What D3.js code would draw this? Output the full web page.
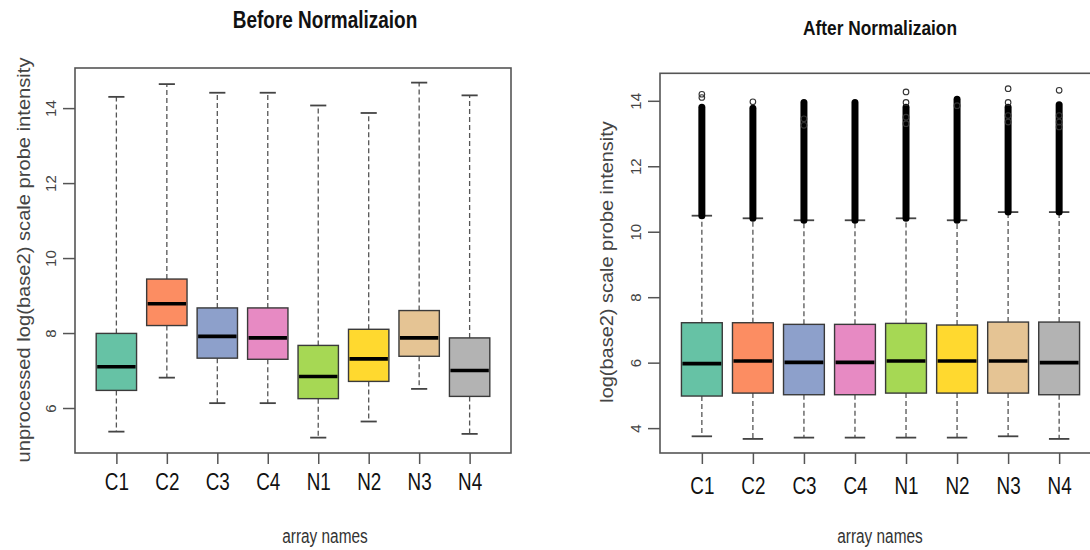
<!DOCTYPE html>
<html>
<head>
<meta charset="utf-8">
<script src="https://cdn.jsdelivr.net/npm/d3@7"></script>
<style>
  body { margin: 0; background: #fff; }
  svg { display: block; }
</style>
</head>
<body>
<div id="chart"></div>
<script>
// array names and Set2-like fill colours
var groups = ["C1", "C2", "C3", "C4", "N1", "N2", "N3", "N4"];
var fills = ["#66C2A5", "#FC8D62", "#8DA0CB", "#E78AC3", "#A6D854", "#FFD92F", "#E5C494", "#B3B3B3"];

// Before normalization
var beforeLow  = [5.37, 6.81, 6.13, 6.13, 5.21, 5.64, 6.51, 5.31];
var beforeQ1   = [6.47, 8.20, 7.33, 7.30, 6.25, 6.71, 7.38, 6.31];
var beforeMed  = [7.10, 8.78, 7.91, 7.87, 6.84, 7.31, 7.87, 7.00];
var beforeQ3   = [7.99, 9.44, 8.67, 8.67, 7.67, 8.10, 8.60, 7.87];
var beforeHigh = [14.30, 14.64, 14.41, 14.41, 14.07, 13.87, 14.68, 14.34];

// After normalization
var afterLow  = [3.75, 3.67, 3.71, 3.71, 3.71, 3.71, 3.75, 3.67];
var afterQ1   = [4.98, 5.07, 5.02, 5.02, 5.07, 5.07, 5.07, 5.02];
var afterMed  = [5.97, 6.05, 6.01, 6.01, 6.05, 6.05, 6.05, 6.00];
var afterQ3   = [7.22, 7.22, 7.17, 7.17, 7.20, 7.15, 7.24, 7.24];
var afterHigh = [10.49, 10.41, 10.35, 10.35, 10.41, 10.35, 10.60, 10.60];
// outliers overlap into a solid column up to this value
var afterDenseTop = [13.80, 13.77, 13.95, 13.95, 13.80, 14.05, 13.80, 13.88];
var afterOutliers = [
  [14.10, 14.20],
  [13.97],
  [13.25, 13.45],
  [],
  [13.30, 13.50, 13.95, 14.27],
  [13.85],
  [13.35, 13.55, 13.95, 14.37],
  [13.20, 13.35, 13.55, 14.32]
];

var yTicksBefore = [6, 8, 10, 12, 14];
var yTicksAfter = [4, 6, 8, 10, 12, 14];

var sans = "'Liberation Sans', Arial, sans-serif";

var svg = d3.select("#chart")
  .append("svg")
  .attr("width", 1090)
  .attr("height", 550);

// no narrow face installed, so squeeze horizontally
function narrowText(x, y, sx, size, bold, fill, str) {
  return svg.append("text")
    .attr("transform", "translate(" + x + "," + y + ") scale(" + sx + ",1)")
    .attr("text-anchor", "middle")
    .style("font-family", sans)
    .style("font-weight", bold ? "bold" : "normal")
    .style("font-size", size + "px")
    .attr("fill", fill)
    .text(str);
}

function drawPanel(opts) {
  var x = d3.scaleLinear().domain([0.18, 8.82]).range([opts.left, opts.right]);
  var y = d3.scaleLinear().domain(opts.yDomain).range([opts.bottom, opts.top]);
  var g = svg.append("g");

  var rows = groups.map(function(name, i) {
    return {
      name: name, i: i + 1, fill: fills[i],
      low: opts.low[i], q1: opts.q1[i], med: opts.med[i], q3: opts.q3[i], high: opts.high[i],
      dense: opts.dense ? opts.dense[i] : null,
      outliers: opts.outliers ? opts.outliers[i] : []
    };
  });

  // whiskers (dashed)
  g.selectAll(".whisk-up").data(rows).enter().append("line")
    .attr("x1", function(d) { return x(d.i); })
    .attr("x2", function(d) { return x(d.i); })
    .attr("y1", function(d) { return y(d.q3); })
    .attr("y2", function(d) { return y(d.high); })
    .attr("stroke", "#555").attr("stroke-width", 1.3)
    .attr("stroke-dasharray", "5,3");
  g.selectAll(".whisk-down").data(rows).enter().append("line")
    .attr("x1", function(d) { return x(d.i); })
    .attr("x2", function(d) { return x(d.i); })
    .attr("y1", function(d) { return y(d.q1); })
    .attr("y2", function(d) { return y(d.low); })
    .attr("stroke", "#555").attr("stroke-width", 1.3)
    .attr("stroke-dasharray", "5,3");

  // staples
  ["high", "low"].forEach(function(k) {
    g.selectAll(".staple-" + k).data(rows).enter().append("line")
      .attr("x1", function(d) { return x(d.i - opts.staple); })
      .attr("x2", function(d) { return x(d.i + opts.staple); })
      .attr("y1", function(d) { return y(d[k]); })
      .attr("y2", function(d) { return y(d[k]); })
      .attr("stroke", "#444").attr("stroke-width", 1.8);
  });

  // boxes
  g.selectAll(".box").data(rows).enter().append("rect")
    .attr("x", function(d) { return x(d.i - 0.4); })
    .attr("width", x(1.4) - x(0.6))
    .attr("y", function(d) { return y(d.q3); })
    .attr("height", function(d) { return y(d.q1) - y(d.q3); })
    .attr("fill", function(d) { return d.fill; })
    .attr("stroke", "#3a3a3a").attr("stroke-width", 1.4);

  // medians
  g.selectAll(".median").data(rows).enter().append("line")
    .attr("x1", function(d) { return x(d.i - 0.4) + 1; })
    .attr("x2", function(d) { return x(d.i + 0.4) - 1; })
    .attr("y1", function(d) { return y(d.med); })
    .attr("y2", function(d) { return y(d.med); })
    .attr("stroke", "#000").attr("stroke-width", 3.6);

  // overlapping outlier column
  if (opts.dense) {
    g.selectAll(".dense").data(rows).enter().append("line")
      .attr("x1", function(d) { return x(d.i); })
      .attr("x2", function(d) { return x(d.i); })
      .attr("y1", function(d) { return y(d.high); })
      .attr("y2", function(d) { return y(d.dense); })
      .attr("stroke", "#000").attr("stroke-width", 7)
      .attr("stroke-linecap", "round");

    var pts = [];
    rows.forEach(function(d) {
      d.outliers.forEach(function(v) { pts.push({ i: d.i, v: v }); });
    });
    g.selectAll(".outlier").data(pts).enter().append("circle")
      .attr("cx", function(d) { return x(d.i); })
      .attr("cy", function(d) { return y(d.v); })
      .attr("r", 2.8)
      .attr("fill", "none").attr("stroke", "#333").attr("stroke-width", 1.1);
  }

  // frame
  g.append("rect")
    .attr("x", opts.left).attr("y", opts.top)
    .attr("width", opts.right - opts.left).attr("height", opts.bottom - opts.top)
    .attr("fill", "none").attr("stroke", "#555").attr("stroke-width", 1.6);

  // y axis, rotated labels as in base R
  var yAxis = g.append("g")
    .attr("transform", "translate(" + opts.left + ",0)")
    .call(d3.axisLeft(y).tickValues(opts.yTicks).tickSize(12).tickFormat(d3.format("d")));
  yAxis.select(".domain").remove();
  yAxis.selectAll(".tick line").attr("stroke", "#555").attr("stroke-width", 1.5);
  yAxis.selectAll(".tick text")
    .attr("x", 0).attr("dy", null).attr("y", -opts.tickGap)
    .attr("transform", "rotate(-90)")
    .attr("text-anchor", "middle")
    .attr("fill", "#444")
    .style("font-family", sans).style("font-size", "15px");

  // x axis
  var xAxis = g.append("g")
    .attr("transform", "translate(0," + opts.bottom + ")")
    .call(d3.axisBottom(x).tickValues(d3.range(1, 9)).tickSize(11)
      .tickFormat(function(d) { return groups[d - 1]; }));
  xAxis.select(".domain").remove();
  xAxis.selectAll(".tick line").attr("stroke", "#555").attr("stroke-width", 1.5);
  xAxis.selectAll(".tick text")
    .attr("y", 0).attr("dy", null)
    .attr("transform", "translate(0," + opts.xLabelY + ") scale(0.82,1)")
    .attr("fill", "#111")
    .style("font-family", sans).style("font-size", "23px");

  // titles
  narrowText(opts.titleX, opts.titleY, opts.titleScale, opts.titleSize, true, "#111", opts.title);
  narrowText(opts.titleX, 543, 0.77, 20, false, "#333", "array names");

  svg.append("text")
    .attr("transform", "translate(" + opts.yLabelX + "," + opts.yLabelY + ") rotate(-90) scale(" + opts.yLabelScale + ",1)")
    .attr("text-anchor", "middle")
    .style("font-family", sans).style("font-size", "19px")
    .attr("fill", "#444")
    .text(opts.yLabel);
}

drawPanel({
  left: 75, right: 511, top: 68, bottom: 453,
  yDomain: [4.8, 15.07], yTicks: yTicksBefore,
  low: beforeLow, q1: beforeQ1, med: beforeMed, q3: beforeQ3, high: beforeHigh,
  staple: 0.16, tickGap: 19, xLabelY: 37,
  title: "Before Normalizaion", titleX: 325, titleY: 28, titleSize: 23, titleScale: 0.825,
  yLabel: "unprocessed log(base2) scale probe intensity", yLabelX: 30, yLabelY: 260, yLabelScale: 1.06
});

drawPanel({
  left: 660, right: 1101, top: 73.3, bottom: 453,
  yDomain: [3.24, 14.84], yTicks: yTicksAfter,
  low: afterLow, q1: afterQ1, med: afterMed, q3: afterQ3, high: afterHigh,
  dense: afterDenseTop, outliers: afterOutliers,
  staple: 0.2, tickGap: 19, xLabelY: 41,
  title: "After Normalizaion", titleX: 880, titleY: 35, titleSize: 20.5, titleScale: 0.845,
  yLabel: "log(base2) scale probe intensity", yLabelX: 613, yLabelY: 262, yLabelScale: 1.05
});
</script>
</body>
</html>
